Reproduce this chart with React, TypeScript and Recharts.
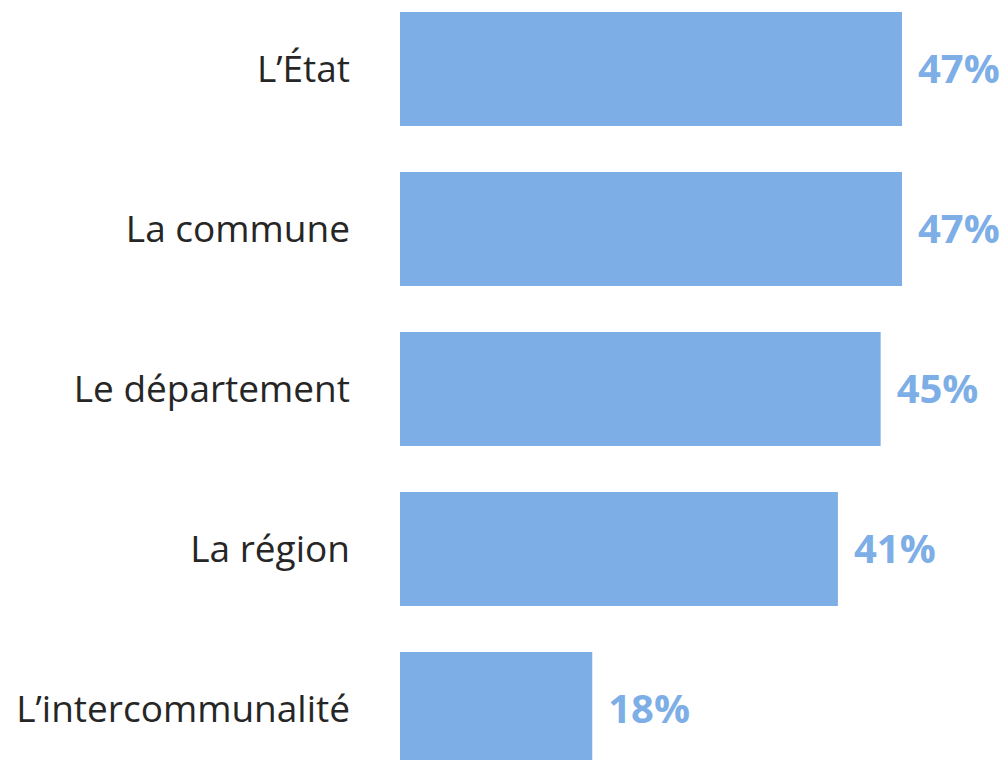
import React from 'react';
import { BarChart, Bar, XAxis, YAxis, LabelList } from 'recharts';

const categories = ['L’État', 'La commune', 'Le département', 'La région', 'L’intercommunalité'];
const shares = [47, 47, 45, 41, 18];

const data = categories.map((name, i) => ({ name, value: shares[i] }));

const BAR_COLOR = '#7EAEE6';

const App: React.FC = () => {
  return (
    <div style={{ position: 'absolute', left: 0, top: 0, width: 1007, height: 760, overflow: 'hidden', background: '#fff' }}>
      <div style={{ marginTop: -11 }}>
        <BarChart
          width={1007}
          height={800}
          data={data}
          layout="vertical"
          margin={{ top: 0, right: 105, bottom: 0, left: 0 }}
        >
          <XAxis type="number" domain={[0, 47]} hide />
          <YAxis
            type="category"
            dataKey="name"
            width={400}
            axisLine={false}
            tickLine={false}
            tickSize={0}
            tickMargin={50}
            tick={{ fill: '#262626', fontSize: 37, fontFamily: 'Open Sans' }}
          />
          <Bar dataKey="value" fill={BAR_COLOR} barSize={114} isAnimationActive={false}>
            <LabelList
              dataKey="value"
              position="right"
              offset={16}
              formatter={(v: number) => `${v}%`}
              fill={BAR_COLOR}
              fontSize={40}
              fontWeight={700}
              fontFamily="Open Sans"
            />
          </Bar>
        </BarChart>
      </div>
    </div>
  );
};

export default App;
